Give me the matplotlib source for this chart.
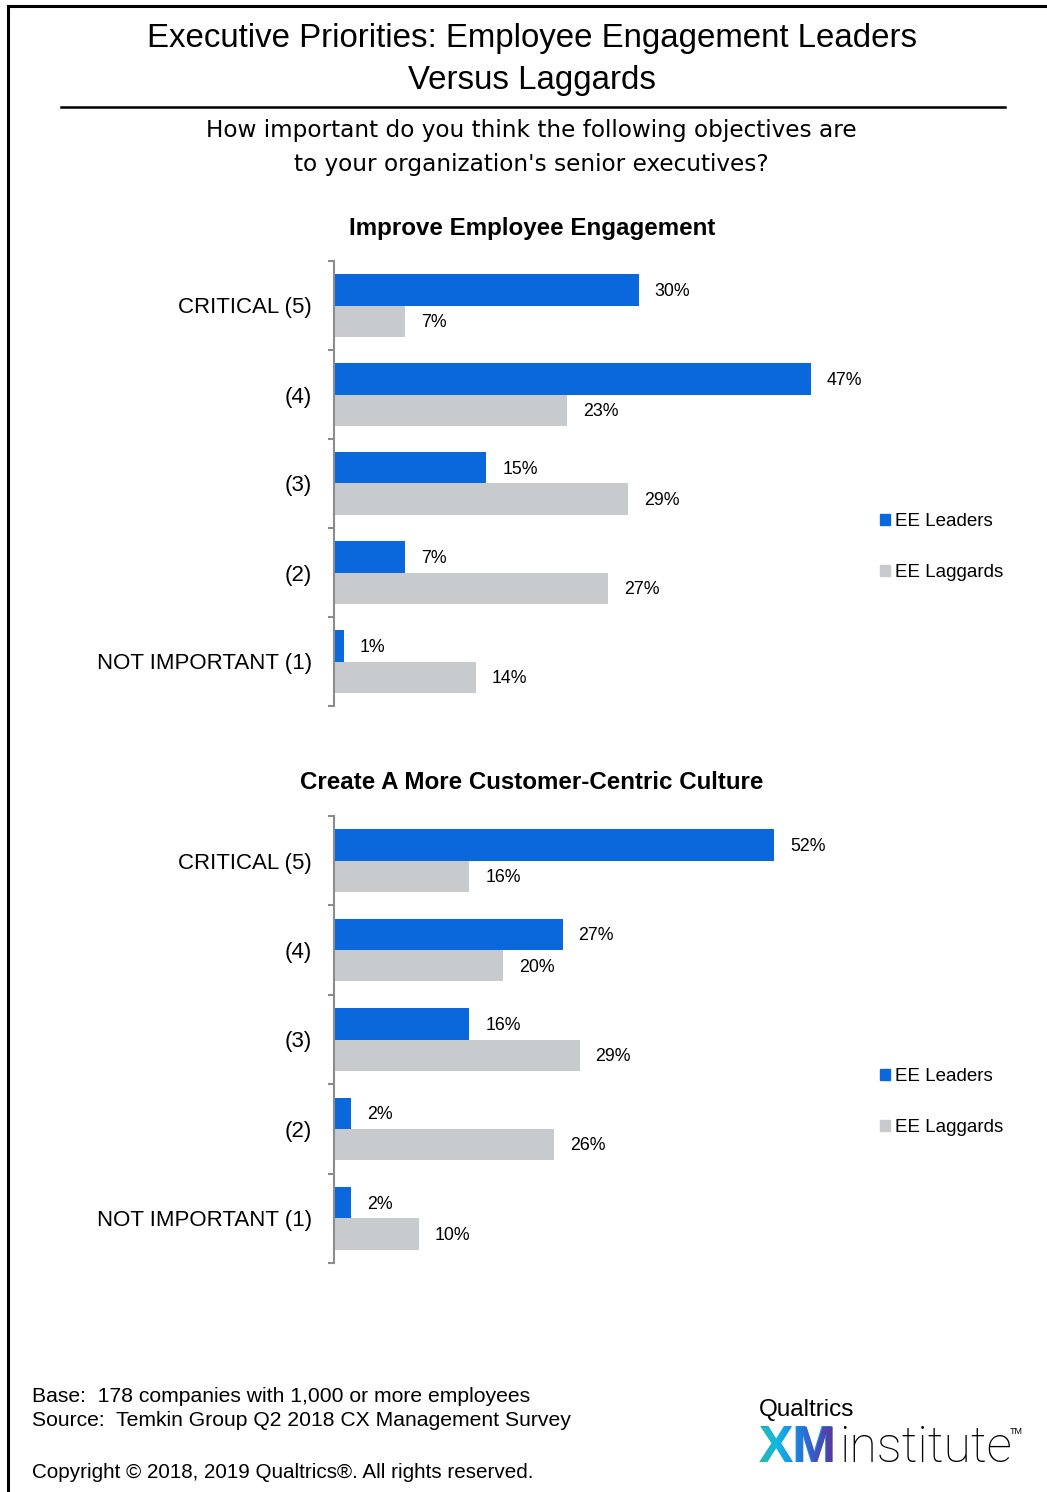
import numpy as np
import matplotlib
matplotlib.use("Agg")
import matplotlib.pyplot as plt
from matplotlib.lines import Line2D
from matplotlib.patches import Patch, PathPatch
from matplotlib.textpath import TextPath
from matplotlib.font_manager import FontProperties
from matplotlib.colors import LinearSegmentedColormap

# ---- data ----
levels = ['NOT IMPORTANT (1)', '(2)', '(3)', '(4)', 'CRITICAL (5)']
engage_leaders = [1, 7, 15, 47, 30]
engage_laggards = [14, 27, 29, 23, 7]
culture_leaders = [2, 2, 16, 27, 52]
culture_laggards = [10, 26, 29, 20, 16]
series_names = ['EE Leaders', 'EE Laggards']

BLUE = '#0a68dc'
GRAY = '#c8cbce'
AXIS = '#8c8c8c'

plt.rcParams['font.family'] = ['Liberation Sans', 'DejaVu Sans']

W, H = 1047, 1492
fig = plt.figure(figsize=(W / 100, H / 100), dpi=100)
fig.patch.set_facecolor('white')


def fx(px):
    return px / W


def fy(py):
    return 1 - py / H


# frame lines (left and top only)
fig.add_artist(Line2D([fx(8), fx(8), fx(W)], [0, fy(6), fy(6)], color='black', lw=2.2,
                      solid_joinstyle='miter'))
# rule under the title
fig.add_artist(Line2D([fx(61), fx(1005)], [fy(107), fy(107)], color='black', lw=1.8))

fig.text(fx(532), fy(39), 'Executive Priorities: Employee Engagement Leaders',
         ha='center', va='center', fontsize=23.8)
fig.text(fx(532), fy(80), 'Versus Laggards', ha='center', va='center', fontsize=23.8)

fig.text(fx(531), fy(131), 'How important do you think the following objectives are',
         ha='center', va='center', fontsize=16.7, family='DejaVu Sans')
fig.text(fx(531), fy(164), "to your organization's senior executives?",
         ha='center', va='center', fontsize=16.7, family='DejaVu Sans')


def draw_panel(top, bottom, title, title_y, leaders, laggards, xmax, legend_y):
    ax = fig.add_axes([fx(334), fy(bottom), fx(870) - fx(334), (bottom - top) / H])
    y = np.arange(len(levels))
    h = 0.35
    b1 = ax.barh(y + h / 2, leaders, height=h, color=BLUE)
    b2 = ax.barh(y - h / 2, laggards, height=h, color=GRAY)
    for bars, vals in ((b1, leaders), (b2, laggards)):
        for bar, v in zip(bars, vals):
            ax.annotate(f'{v}%', (v, bar.get_y() + bar.get_height() / 2),
                        xytext=(11.5, -1), textcoords='offset points',
                        va='center', ha='left', fontsize=12.8)
    ax.set_xlim(0, xmax)
    ax.set_ylim(-0.5, len(levels) - 0.5)
    ax.set_xticks([])
    ax.set_yticks(y)
    ax.set_yticklabels(levels, fontsize=16)
    ax.set_yticks(np.arange(-0.5, len(levels)), minor=True)
    ax.tick_params(axis='y', which='major', length=0, pad=16)
    ax.tick_params(axis='y', which='minor', length=4.5, width=1.5, color=AXIS)
    for s in ('top', 'right', 'bottom'):
        ax.spines[s].set_visible(False)
    ax.spines['left'].set_color(AXIS)
    ax.spines['left'].set_linewidth(1.5)
    ax.patch.set_alpha(0)

    fig.text(fx(532), fy(title_y), title, ha='center', va='center',
             fontsize=17.4, fontweight='bold')

    handles = [Patch(color=BLUE), Patch(color=GRAY)]
    fig.legend(handles, series_names, loc='upper left',
               bbox_to_anchor=(fx(880), fy(legend_y)), frameon=False,
               fontsize=13.5, handlelength=0.52, handleheight=0.52,
               handletextpad=0.3, labelspacing=1.8, borderpad=0, borderaxespad=0)
    return ax


draw_panel(261, 706, 'Improve Employee Engagement', 228,
           engage_leaders, engage_laggards, 52.8, 513)
draw_panel(816, 1263, 'Create A More Customer-Centric Culture', 783,
           culture_leaders, culture_laggards, 63.3, 1068)

# footer
fig.text(fx(32), fy(1397), 'Base:  178 companies with 1,000 or more employees',
         ha='left', va='center', fontsize=15.2)
fig.text(fx(32), fy(1421), 'Source:  Temkin Group Q2 2018 CX Management Survey',
         ha='left', va='center', fontsize=15.2)
fig.text(fx(32), fy(1473), 'Copyright \u00a9 2018, 2019 Qualtrics\u00ae. All rights reserved.',
         ha='left', va='center', fontsize=14.9)

# logo
fig.text(fx(759), fy(1416), 'Qualtrics', ha='left', va='baseline', fontsize=17.5)
XM_SIZE = 37
fig.text(fx(759), fy(1462), 'XM', ha='left', va='baseline', fontsize=XM_SIZE,
         fontweight='bold', color='#1c8fe0')
fig.text(fx(839), fy(1462), 'institute', ha='left', va='baseline', fontsize=36,
         family='Roboto', fontweight='light')
fig.text(fx(1010), fy(1434), 'TM', ha='left', va='baseline', fontsize=6.5)

# gradient fill over the XM letters
grad_ax = fig.add_axes([0, 0, 1, 1], zorder=5)
grad_ax.set_xlim(0, W)
grad_ax.set_ylim(0, H)
grad_ax.axis('off')
prop = FontProperties(family='Liberation Sans', weight='bold', size=XM_SIZE * 100 / 72)
tp = TextPath((759, H - 1462), 'XM', prop=prop)
ext = tp.get_extents()
clip = PathPatch(tp, transform=grad_ax.transData, facecolor='none', edgecolor='none')
grad_ax.add_patch(clip)
cmap = LinearSegmentedColormap.from_list(
    'xm', ['#29b9a4', '#0fb8e8', '#1d86e0', '#3f55c4', '#5a3aa0'])
img = grad_ax.imshow(np.linspace(0, 1, 256).reshape(1, -1), cmap=cmap, aspect='auto',
                     extent=(ext.x0, ext.x1, ext.y0, ext.y1))
img.set_clip_path(clip)

fig.savefig('out.png', dpi=100)
